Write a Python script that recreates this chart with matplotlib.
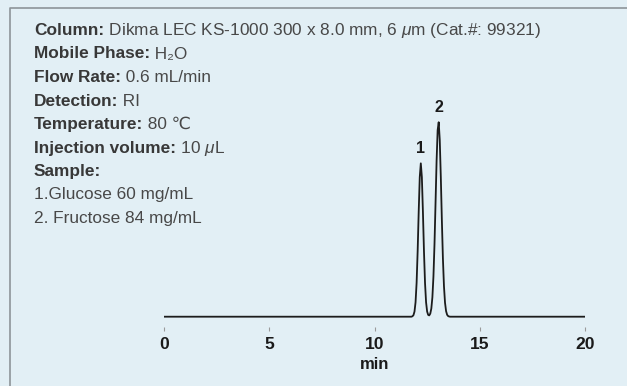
import matplotlib
matplotlib.use("Agg")
import matplotlib.pyplot as plt
from matplotlib.lines import Line2D

# ---- data ----
time_min = [0.0, 11.75, 11.80, 11.85, 11.90, 11.95, 12.00, 12.05, 12.10, 12.15, 12.20,
            12.25, 12.30, 12.35, 12.40, 12.45, 12.50, 12.55, 12.60, 12.65, 12.70,
            12.75, 12.80, 12.85, 12.90, 12.95, 13.00, 13.05, 13.10, 13.15, 13.20,
            13.25, 13.30, 13.35, 13.40, 13.45, 13.50, 13.55, 13.60, 20.0]
signal = [0.0, 0.0, 0.4, 1.5, 5.1, 14.4, 33.8, 65.5, 105.1, 139.6, 153.4,
          139.6, 105.1, 65.5, 33.8, 14.4, 5.2, 1.8, 1.3, 3.1, 8.2,
          19.4, 40.2, 72.4, 113.9, 156.1, 186.6, 194.5, 176.7, 139.9, 96.6,
          58.1, 30.5, 14.0, 5.6, 1.9, 0.6, 0.15, 0.0, 0.0]
peak_labels = ["1", "2"]
peak_times = [12.20, 13.05]
peak_heights = [153.4, 194.5]
xticks = [0, 5, 10, 15, 20]
xlabel = "min"

info_bold = ["Column:", "Mobile Phase:", "Flow Rate:", "Detection:", "Temperature:",
             "Injection volume:", "Sample:", "", ""]
info_value = [" Dikma LEC KS-1000 300 x 8.0 mm, 6 $\\mathit{\\mu}$m (Cat.#: 99321)",
              " H\u2082O", " 0.6 mL/min", " RI", " 80 \u2103", " 10 $\\mathit{\\mu}$L",
              "", "1.Glucose 60 mg/mL", "2. Fructose 84 mg/mL"]

# ---- figure ----
W, H = 627, 386
plt.rcParams['font.family'] = ['Liberation Sans', 'DejaVu Sans']
plt.rcParams['mathtext.fontset'] = 'custom'
plt.rcParams['mathtext.rm'] = 'Liberation Sans'
plt.rcParams['mathtext.it'] = 'Liberation Sans:italic'
plt.rcParams['mathtext.bf'] = 'Liberation Sans:bold'

bg = '#e2eff5'
fig = plt.figure(figsize=(W / 100, H / 100), dpi=100, facecolor=bg)

def fx(px):
    return px / W

def fy(py):
    return 1 - py / H

# border (open on right and bottom)
fig.add_artist(Line2D([fx(9.5), fx(9.5), fx(W + 5)], [fy(H + 5), fy(7.5), fy(7.5)],
                      transform=fig.transFigure, color='#8d9499', lw=1.2))

# axes: x 0 -> 164px, 20 -> 585px; baseline y=316.7px; spine at 327px
ax_bottom_px = 327.0
y_lo = -(ax_bottom_px - 316.7)
y_hi = 200.0
ax = fig.add_axes([fx(164), fy(ax_bottom_px), fx(585) - fx(164), (y_hi - y_lo) / H])
ax.set_facecolor('none')
ax.plot(time_min, signal, color='#1c1c1c', lw=1.3, solid_joinstyle='round')
ax.set_xlim(0, 20)
ax.set_ylim(y_lo, y_hi)
for s in ax.spines.values():
    s.set_visible(False)
ax.set_yticks([])
ax.set_xticks(xticks)
ax.set_xticklabels([str(t) for t in xticks], fontsize=12.6, fontweight='bold', color='#1a1a1a')
ax.tick_params(axis='x', direction='out', length=2.6, width=0.8, color='#9a9a9a', pad=4.8)

fig.text(fx(374.5), fy(369), xlabel, ha='center', va='baseline', fontsize=12,
         fontweight='bold', color='#1a1a1a')

for lab, t, h in zip(peak_labels, peak_times, peak_heights):
    ax.annotate(lab, xy=(t, h), xytext=(0, 7.5), textcoords='offset points',
                ha='center', va='baseline', fontsize=11.5, fontweight='bold', color='#1a1a1a')

# info text block
fs = 12.4
renderer = fig.canvas.get_renderer()
for i, (b, v) in enumerate(zip(info_bold, info_value)):
    yb = fy(35 + 23.5 * i)
    xpx = 34.0
    if b:
        tb = fig.text(fx(xpx), yb, b, ha='left', va='baseline', fontsize=fs,
                      fontweight='bold', color='#383838')
        xpx = tb.get_window_extent(renderer).x1
    if v:
        fig.text(fx(xpx), yb, v, ha='left', va='baseline', fontsize=fs, color='#484848')

fig.savefig('out.png', dpi=100, facecolor=bg)
